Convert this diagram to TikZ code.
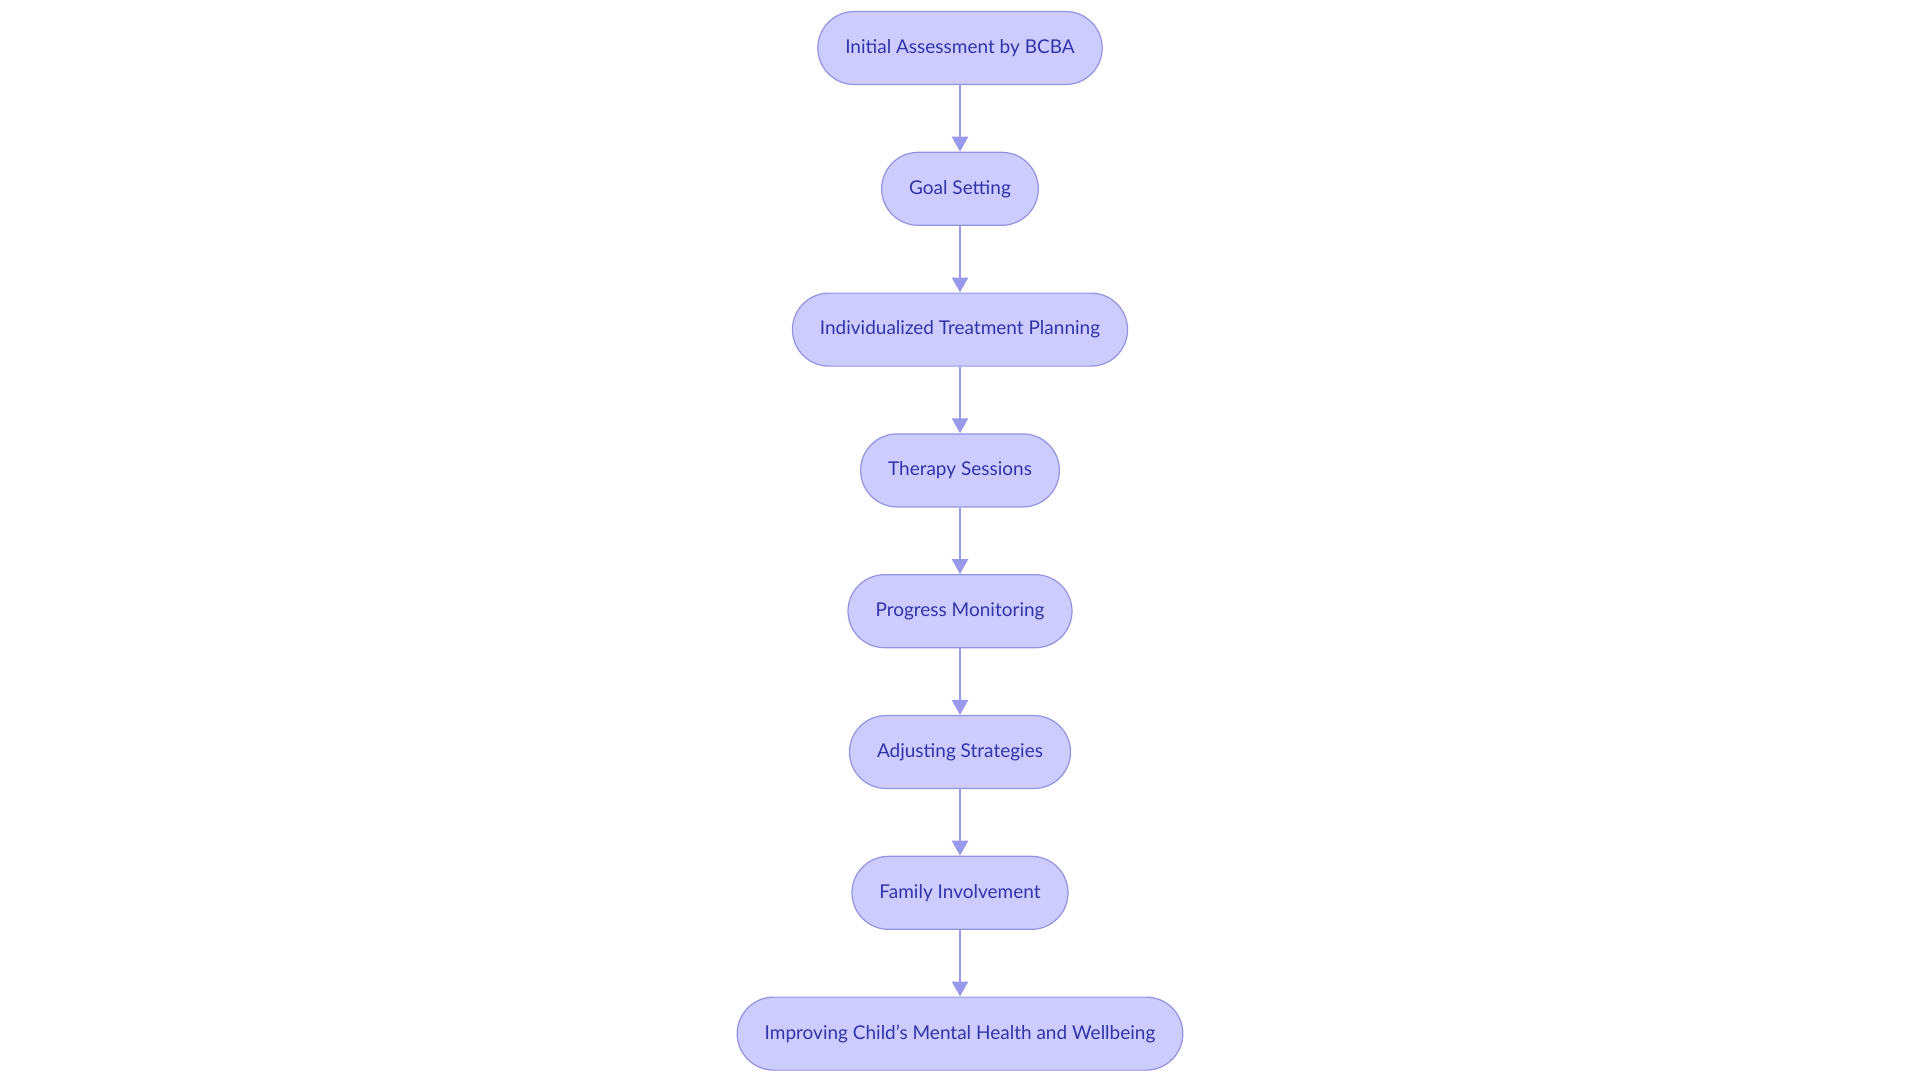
\documentclass[tikz,border=0pt]{standalone}
\usepackage{fontspec}
\setmainfont{Lato}
\usetikzlibrary{arrows.meta,positioning}

\definecolor{boxfill}{RGB}{204,204,255}
\definecolor{boxline}{RGB}{147,147,226}
\definecolor{boxtext}{RGB}{51,51,170}
\definecolor{linkline}{RGB}{153,153,235}

\begin{document}
\begin{tikzpicture}[x=1pt,y=1pt,
	node distance=140.8pt,
	stepbox/.style={draw=boxline,fill=boxfill,line width=1.2pt,text=boxtext,
		rounded corners=36.5pt,minimum height=73pt,inner xsep=27.5pt,
		font=\fontsize{19}{22}\selectfont},
	link/.style={draw=linkline,line width=2.6pt,-{Triangle[length=15pt,width=16pt]}}]

\useasboundingbox (0,0) rectangle (1920,-1080);

\def\midx{960}

\node[stepbox] (assess) at (\midx,-48) {Initial Assessment by BCBA};
\node[stepbox,below=of assess.center,anchor=center] (goal) {Goal Setting};
\node[stepbox,below=of goal.center,anchor=center] (plan) {Individualized Treatment Planning};
\node[stepbox,below=of plan.center,anchor=center] (therapy) {Therapy Sessions};
\node[stepbox,below=of therapy.center,anchor=center] (progress) {Progress Monitoring};
\node[stepbox,below=of progress.center,anchor=center] (adjust) {Adjusting Strategies};
\node[stepbox,below=of adjust.center,anchor=center] (family) {Family Involvement};
\node[stepbox,below=of family.center,anchor=center] (wellbeing) {Improving Child's Mental Health and Wellbeing};

%\draw[red] (assess.south)--(goal.north);
\foreach \a/\b in {assess/goal,goal/plan,plan/therapy,therapy/progress,
	progress/adjust,adjust/family,family/wellbeing}
	\draw[link] (\a)--(\b);

\end{tikzpicture}
\end{document}
